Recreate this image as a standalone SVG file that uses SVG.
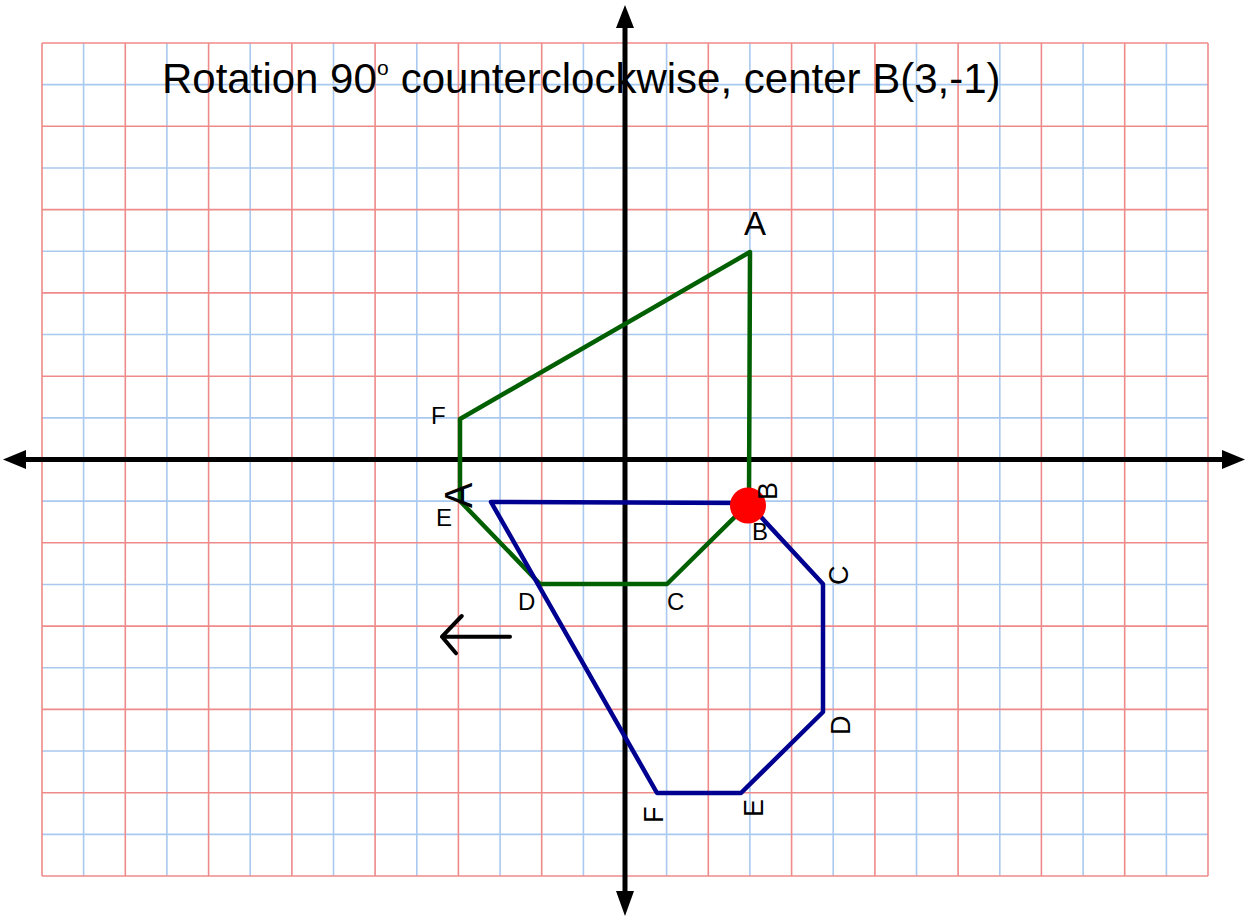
<svg xmlns="http://www.w3.org/2000/svg" width="1246" height="923" viewBox="0 0 1246 923">
<defs>
<style>
.gb{fill:none;stroke:#a9c9f0;stroke-width:1.6}
.gr{fill:none;stroke:#ef8a8a;stroke-width:1.6}
.ax{stroke:#000;stroke-width:5;fill:none}
.ah{fill:#000}
.t{font-family:"Liberation Sans",Arial,sans-serif;fill:#000}
.orig{fill:none;stroke:#005f00;stroke-width:4.5;stroke-linejoin:round;stroke-linecap:round}
.img{fill:none;stroke:#000090;stroke-width:4.5;stroke-linejoin:round;stroke-linecap:round}
</style>
</defs>
<rect width="1246" height="923" fill="#fff"/>
<g id="grid">
<path class="gb" d="M83.6 43V876M166.9 43V876M250.2 43V876M333.5 43V876M416.8 43V876M500.1 43V876M583.4 43V876M666.6 43V876M749.9 43V876M833.2 43V876M916.5 43V876M999.8 43V876M1083.1 43V876M1166.4 43V876"/>
<path class="gb" d="M42 84.65H1208M42 167.95H1208M42 251.25H1208M42 334.55H1208M42 417.85H1208M42 501.15H1208M42 584.45H1208M42 667.75H1208M42 751.05H1208M42 834.35H1208"/>
<path class="gr" d="M42 43V876M125.3 43V876M208.6 43V876M291.9 43V876M375.1 43V876M458.4 43V876M541.7 43V876M625 43V876M708.3 43V876M791.6 43V876M874.9 43V876M958.1 43V876M1041.4 43V876M1124.7 43V876M1208 43V876"/>
<path class="gr" d="M42 43H1208M42 126.3H1208M42 209.6H1208M42 292.9H1208M42 376.2H1208M42 459.5H1208M42 542.8H1208M42 626.1H1208M42 709.4H1208M42 792.7H1208M42 876H1208"/>
</g>
<g id="title">
<text class="t" x="162" y="93" font-size="42">Rotation 90</text>
<text class="t" x="377" y="75" font-size="21">o</text>
<text class="t" x="389" y="93" font-size="42" xml:space="preserve"> counterclockwise, center B(3,-1)</text>
</g>
<g id="axes">
<path class="ax" d="M625 26V892M26 459.5H1222"/>
<polygon class="ah" points="625,5 616,28 634,28"/>
<polygon class="ah" points="625,916 616,891 634,891"/>
<polygon class="ah" points="1245,459.5 1222,450 1222,469"/>
<polygon class="ah" points="3,459.5 26,450 26,469"/>
</g>
<g id="connectors">
<polygon id="original" class="orig" points="750,252 749,503 667,584 540,584 460,501 460,419"/>
<polygon id="image" class="img" points="491,502 748,503 823,584 823,712 741,793 657,793"/>
<path id="arrow" d="M510 636.7H442M461.7 616L442 636.7L456 653.3" fill="none" stroke="#000" stroke-width="4" stroke-linecap="round" stroke-linejoin="round"/>
</g>
<g id="labels-original">
<text class="t" x="744" y="235" font-size="33">A</text>
<text class="t" x="431" y="424" font-size="24">F</text>
<text class="t" x="436" y="526" font-size="24">E</text>
<text class="t" x="518" y="610" font-size="24">D</text>
<text class="t" x="667" y="610" font-size="24">C</text>
<text class="t" x="752" y="540" font-size="24">B</text>
</g>
<g id="node-B">
<circle cx="748" cy="505.5" r="18" fill="#ff0000"/>
</g>
<g id="labels-image">
<text class="t" font-size="38" transform="translate(472 508) rotate(-90)">A</text>
<text class="t" font-size="27" transform="translate(777 500) rotate(-90)">B</text>
<text class="t" font-size="27" transform="translate(848 585) rotate(-90)">C</text>
<text class="t" font-size="27" transform="translate(850 735) rotate(-90)">D</text>
<text class="t" font-size="27" transform="translate(763 817) rotate(-90)">E</text>
<text class="t" font-size="27" transform="translate(663 823) rotate(-90)">F</text>
</g>
</svg>
